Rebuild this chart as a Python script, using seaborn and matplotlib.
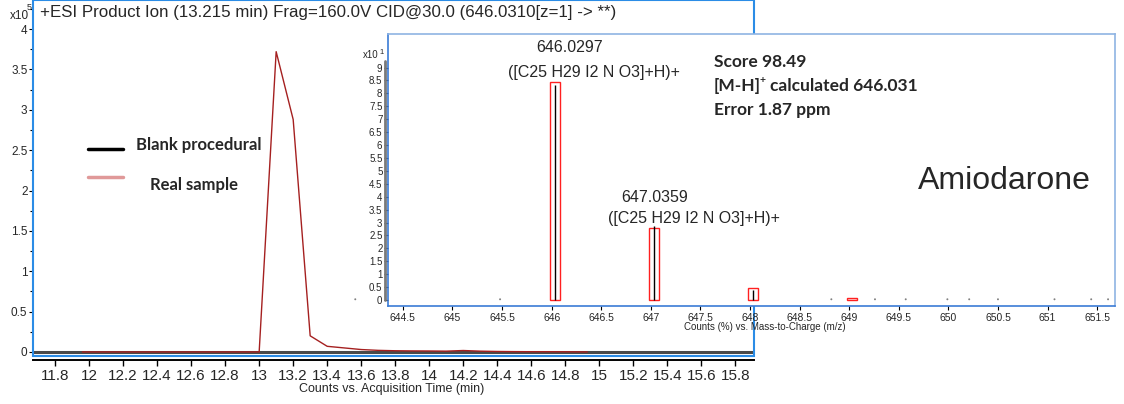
import numpy as np
import pandas as pd
import matplotlib
matplotlib.use("Agg")
import matplotlib.pyplot as plt
from matplotlib.patches import Rectangle
from matplotlib.lines import Line2D
import seaborn as sns

# ---------------- data ----------------
# Chromatogram (counts x10^5 vs acquisition time, min)
blank_time = [11.67, 12.5, 13.0, 13.5, 14.0, 14.5, 15.0, 15.5, 15.91]
blank_counts = [0, 0, 0, 0, 0, 0, 0, 0, 0]

sample_time = [11.96, 12.5, 13.0, 13.1, 13.2, 13.3, 13.4, 13.5, 13.6, 13.7, 13.8,
               13.9, 14.0, 14.1, 14.2, 14.3, 14.4, 14.5, 14.6, 14.7, 14.8, 14.93]
sample_counts = [0, 0, 0, 3.72, 2.88, 0.20, 0.07, 0.05, 0.03, 0.02, 0.015,
                 0.013, 0.012, 0.01, 0.018, 0.01, 0.006, 0.004, 0.003, 0.003, 0.002, 0]

time_ticks = [11.8, 12.0, 12.2, 12.4, 12.6, 12.8, 13.0, 13.2, 13.4, 13.6, 13.8,
              14.0, 14.2, 14.4, 14.6, 14.8, 15.0, 15.2, 15.4, 15.6, 15.8]
time_labels = ["11.8", "12", "12.2", "12.4", "12.6", "12.8", "13", "13.2", "13.4", "13.6", "13.8",
               "14", "14.2", "14.4", "14.6", "14.8", "15", "15.2", "15.4", "15.6", "15.8"]
count_ticks = [0, 0.5, 1, 1.5, 2, 2.5, 3, 3.5, 4]
count_labels = ["0", "0.5", "1", "1.5", "2", "2.5", "3", "3.5", "4"]

# Mass spectrum (counts % x10^1 vs m/z)
peak_mz = [646.0297, 647.0359, 648.03, 649.03]
peak_obs = [8.33, 2.87, 0.38, 0.0]
peak_pred = [8.45, 2.80, 0.45, 0.08]
noise_mz = [644.02, 645.48, 648.82, 649.26, 649.57, 649.99, 650.21, 650.50, 651.07, 651.44, 651.61]
noise_val = [0.03, 0.03, 0.03, 0.03, 0.03, 0.03, 0.03, 0.03, 0.03, 0.03, 0.03]

mz_ticks = [644.5, 645, 645.5, 646, 646.5, 647, 647.5, 648, 648.5, 649, 649.5, 650, 650.5, 651, 651.5]
mz_labels = ["644.5", "645", "645.5", "646", "646.5", "647", "647.5", "648", "648.5",
             "649", "649.5", "650", "650.5", "651", "651.5"]
pct_ticks = [0, 0.5, 1, 1.5, 2, 2.5, 3, 3.5, 4, 4.5, 5, 5.5, 6, 6.5, 7, 7.5, 8, 8.5, 9]
pct_labels = ["0", "0.5", "1", "1.5", "2", "2.5", "3", "3.5", "4", "4.5", "5", "5.5",
              "6", "6.5", "7", "7.5", "8", "8.5", "9"]

peak_labels = ["646.0297", "647.0359"]
formula = "([C25 H29 I2 N O3]+H)+"

# ---------------- style ----------------
sns.set_theme(style="white")
plt.rcParams["font.family"] = ["Liberation Sans", "DejaVu Sans"]

W, H = 1124, 404
fig = plt.figure(figsize=(W / 100, H / 100), dpi=100)


def fx(x):
    return x / W


def fy(y):
    return 1 - y / H


MAIN_BLUE = "#2b8ce6"
INSET_BLUE = "#3b7bd6"
INSET_LIGHT = "#8fb4e3"
BOLD_FAM = ["Lato", "DejaVu Sans"]

# ---------------- main chromatogram ----------------
ax = fig.add_axes([fx(33), fy(356), (754 - 33) / W, 356 / H])
blank_df = pd.DataFrame({"time": blank_time, "counts": blank_counts})
sample_df = pd.DataFrame({"time": sample_time, "counts": sample_counts})
sns.lineplot(data=blank_df, x="time", y="counts", ax=ax, color="#4a4a4a", lw=2.2, zorder=2)
sns.lineplot(data=sample_df, x="time", y="counts", ax=ax, color="#a52020", lw=1.0, zorder=3)
ax.set_xlim(11.67, 15.91)
ax.set_ylim(-0.05, 4.36)
ax.set_xticks(time_ticks)
ax.set_xticklabels(time_labels, fontsize=10.5)
ax.set_yticks(count_ticks)
ax.set_yticklabels(count_labels, fontsize=8.5)
ax.set_yticks([0.25, 0.75, 1.25, 1.75, 2.25, 2.75, 3.25, 3.75, 4.25], minor=True)
ax.set_xlabel("")
ax.set_ylabel("")
for s in ["top", "right", "left"]:
    ax.spines[s].set_visible(False)
ax.spines["bottom"].set_color("black")
ax.spines["bottom"].set_linewidth(1.4)
ax.spines["bottom"].set_position(("outward", 3))
ax.add_patch(Rectangle((0, 0), 1, 1, transform=ax.transAxes, fill=False,
                       ec=MAIN_BLUE, lw=1.5, clip_on=False, zorder=5))
ax.tick_params(axis="x", which="major", direction="out", length=4, width=1,
               color="black", pad=2, bottom=True)
ax.tick_params(axis="y", which="both", direction="out", length=3, width=0.8,
               color="black", pad=1, left=True)
ax.tick_params(axis="y", which="minor", length=2)

fig.text(fx(392), fy(389), "Counts vs. Acquisition Time (min)", ha="center", va="center", fontsize=9)
fig.text(fx(40), fy(12), "+ESI Product Ion (13.215 min) Frag=160.0V CID@30.0 (646.0310[z=1] -> **)",
         ha="left", va="center", fontsize=12.2)
fig.text(fx(10), fy(16), "x10", ha="left", va="center", fontsize=8.5)
fig.text(fx(27), fy(8), "5", ha="left", va="center", fontsize=6.5)

# legend (manual)
ax.add_line(Line2D([fx(88), fx(123)], [fy(149), fy(149)], transform=fig.transFigure,
                   color="black", lw=2.5))
ax.add_line(Line2D([fx(88), fx(123)], [fy(177), fy(177)], transform=fig.transFigure,
                   color="#e09999", lw=2.5))
fig.text(fx(136), fy(145), "Blank procedural", ha="left", va="center", fontsize=12,
         fontweight="bold", family=BOLD_FAM)
fig.text(fx(150), fy(185), "Real sample", ha="left", va="center", fontsize=12,
         fontweight="bold", family=BOLD_FAM)

# ---------------- inset spectrum ----------------
ins = fig.add_axes([fx(388), fy(306), (1115 - 388) / W, (306 - 34) / H])
ins.set_facecolor("white")
ins.set_xlim(644.35, 651.68)
ins.set_ylim(-0.23, 10.3)
width = 0.1
ins.bar(peak_mz, peak_pred, width=width, fill=False, edgecolor="#ff2020", lw=1.0, zorder=2)
ins.vlines(peak_mz, 0, peak_obs, color="black", lw=1.0, zorder=3)
noise_df = pd.DataFrame({"mz": noise_mz, "val": noise_val})
sns.scatterplot(data=noise_df, x="mz", y="val", ax=ins, s=2, color="#808080",
                edgecolor="none", clip_on=False, zorder=2)
ins.set_xlabel("")
ins.set_ylabel("")
ins.set_xticks(mz_ticks)
ins.set_xticklabels(mz_labels, fontsize=7.5)
ins.set_yticks(pct_ticks)
ins.set_yticklabels(pct_labels, fontsize=7)
ins.tick_params(axis="x", direction="out", length=3, width=0.8, color="black", pad=2, bottom=True)
ins.tick_params(axis="y", direction="out", length=3, width=0.8, color="black", pad=1, left=True)
ins.spines["top"].set_color(INSET_LIGHT)
ins.spines["right"].set_color(INSET_LIGHT)
ins.spines["bottom"].set_color(INSET_BLUE)
ins.spines["left"].set_color(INSET_BLUE)
for s in ins.spines.values():
    s.set_linewidth(1.2)
ins.add_line(Line2D([-0.004, -0.004], [0, 9.25], transform=ins.get_yaxis_transform(),
                    color="#7a7a7a", lw=2.0, clip_on=False))

fig.text(fx(363), fy(55), "x10", ha="left", va="center", fontsize=7)
fig.text(fx(379), fy(52), "1", ha="left", va="center", fontsize=5.5)
fig.text(fx(765), fy(327), "Counts (%) vs. Mass-to-Charge (m/z)", ha="center", va="center", fontsize=7)

fig.text(fx(570), fy(47), peak_labels[0], ha="center", va="center", fontsize=11.5)
fig.text(fx(594), fy(73), formula, ha="center", va="center", fontsize=11.5)
fig.text(fx(655), fy(197), peak_labels[1], ha="center", va="center", fontsize=11.5)
fig.text(fx(694), fy(218), formula, ha="center", va="center", fontsize=11.5)

bold = dict(ha="left", va="center", fontsize=12.5, fontweight="bold", family=BOLD_FAM)
fig.text(fx(714), fy(62), "Score 98.49", **bold)
fig.text(fx(714), fy(86), "[M-H]", **bold)
fig.text(fx(759), fy(80), "+", ha="left", va="center", fontsize=7.5, fontweight="bold", family=BOLD_FAM)
fig.text(fx(770), fy(86), "calculated 646.031", **bold)
fig.text(fx(714), fy(110), "Error 1.87 ppm", **bold)

fig.text(fx(1004), fy(181), "Amiodarone", ha="center", va="center", fontsize=23)

fig.savefig("out.png", dpi=100)
